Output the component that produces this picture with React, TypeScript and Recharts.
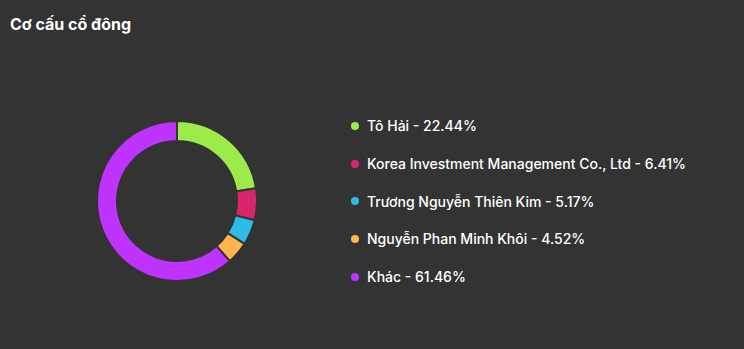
import { Legend, Pie, PieChart } from 'recharts';

const holders = [
	'Tô Hải',
	'Korea Investment Management Co., Ltd',
	'Trương Nguyễn Thiên Kim',
	'Nguyễn Phan Minh Khôi',
	'Khác',
];
const shares = [22.44, 6.41, 5.17, 4.52, 61.46];
const colors = ['#9ceb4b', '#d9266a', '#2ebbe8', '#ffb54d', '#bf33ff'];

const data = holders.map((name, i) => ({
	name,
	value: shares[i],
	fill: colors[i],
}));

const font = 'Inter, "Noto Sans", sans-serif';

function LegendList() {
	return (
		<ul style={{ listStyle: 'none', margin: 0, padding: 0 }}>
			{data.map((d) => (
				<li
					key={d.name}
					style={{
						display: 'flex',
						alignItems: 'center',
						height: 37.7,
						color: '#ffffff',
						fontSize: 14,
						fontWeight: 500,
						fontFamily: font,
					}}
				>
					<span
						style={{
							width: 8,
							height: 8,
							borderRadius: '50%',
							background: d.fill,
							marginRight: 8,
						}}
					/>
					{d.name} - {d.value.toFixed(2)}%
				</li>
			))}
		</ul>
	);
}

export default function App() {
	return (
		<div
			style={{
				width: 744,
				height: 349,
				background: '#333333',
				position: 'relative',
				fontFamily: font,
			}}
		>
			<style>{'body{margin:0}'}</style>
			<div
				style={{
					position: 'absolute',
					left: 10,
					top: 14,
					color: '#ffffff',
					fontSize: 16,
					fontWeight: 700,
				}}
			>
				Cơ cấu cổ đông
			</div>
			<PieChart width={744} height={349}>
				<Pie
					data={data}
					dataKey="value"
					nameKey="name"
					cx={172}
					cy={196}
					innerRadius={60}
					outerRadius={80}
					startAngle={90}
					endAngle={-270}
					stroke="#333333"
					strokeWidth={2}
					isAnimationActive={false}
				/>
				<Legend
					layout="vertical"
					content={<LegendList />}
					wrapperStyle={{ left: 351, top: 107, width: 380 }}
				/>
			</PieChart>
		</div>
	);
}
